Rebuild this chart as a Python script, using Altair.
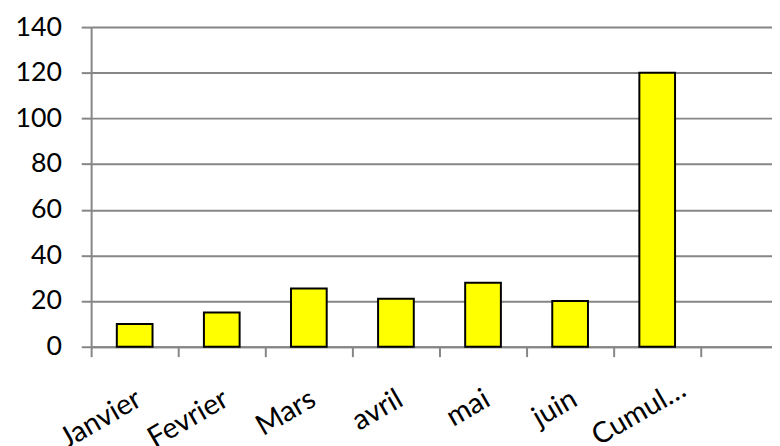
import altair as alt
import pandas as pd

categories = ["Janvier", "Fevrier", "Mars", "avril", "mai", "juin", "Cumul…"]
values = [10, 15, 25.5, 21, 28, 20, 120]
empty_slot = [" "]
y_ticks = [0, 20, 40, 60, 80, 100, 120, 140]

df = pd.DataFrame({"mois": categories, "valeur": values})
grey = "#868686"
font = "Lato"
is_cumul = "datum.label == 'Cumul…'"

chart = alt.Chart(df).mark_bar(
    color="#FFFF00", stroke="black", strokeWidth=2, width={"band": 0.41}
).encode(
    x=alt.X(
        "mois:N",
        sort=None,
        scale=alt.Scale(domain=categories + empty_slot, range=[0, 704],
                        paddingInner=0, paddingOuter=0),
        axis=alt.Axis(title=None, labelAngle=330, labelAlign="right", labelBaseline="top",
                      labelPadding={"condition": {"test": is_cumul, "value": 18}, "value": 28},
                      labelOffset={"condition": {"test": is_cumul, "value": 19}, "value": -3},
                      tickSize=10, tickBand="extent", domainColor=grey,
                      tickColor=grey, domainWidth=2, tickWidth=2, labelFont=font,
                      labelFontSize=29, labelColor="black", grid=False, labelOverlap=False),
    ),
    y=alt.Y(
        "valeur:Q",
        scale=alt.Scale(domain=[0, 140], nice=False),
        axis=alt.Axis(title=None, values=y_ticks, tickSize=10, tickColor=grey, tickWidth=2,
                      domainColor=grey, domainWidth=2, gridColor=grey, gridWidth=2,
                      labelPadding=20, labelFont=font, labelFontSize=27, labelColor="black"),
    ),
).properties(
    width=688, height=323, autosize="none",
    padding={"left": 84, "top": 17, "right": 0, "bottom": 98},
).configure_view(stroke=None)

chart.save("out.html", embed_options={"renderer": "svg", "actions": False})
